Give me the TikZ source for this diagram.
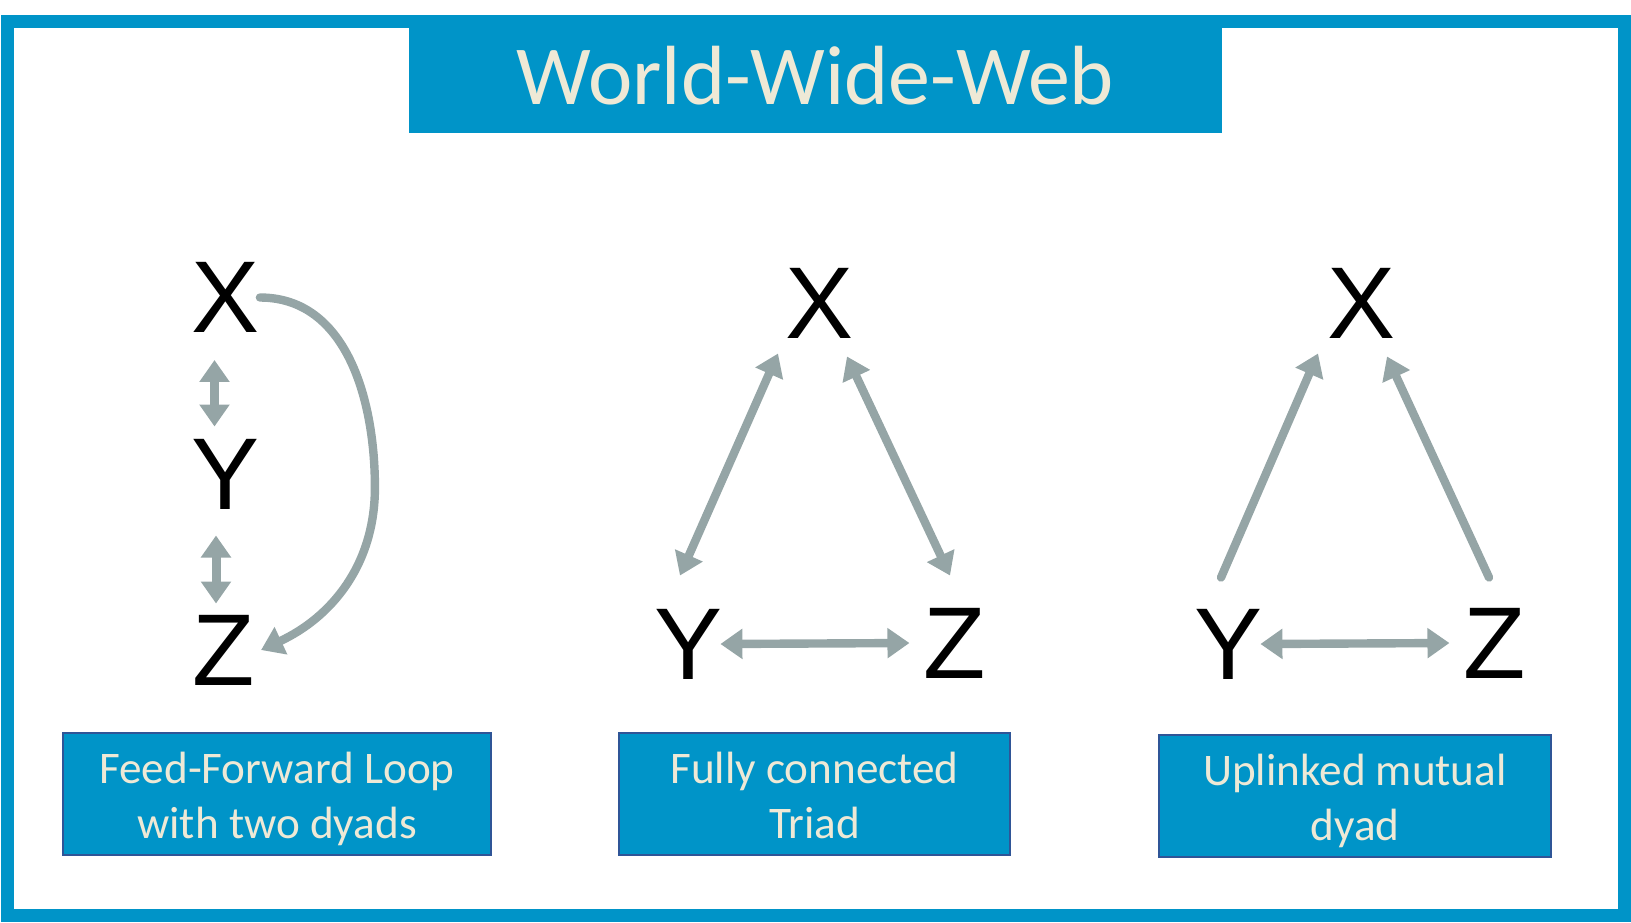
\documentclass[tikz,border=0pt]{standalone}
\usepackage{fontspec}
\setmainfont{Carlito}
\newfontfamily\letterfont{Liberation Sans}
\usetikzlibrary{arrows.meta}
\definecolor{frameblue}{RGB}{0,148,200}
\definecolor{boxline}{RGB}{47,85,151}
\definecolor{cream}{RGB}{238,233,214}
\definecolor{linkgray}{RGB}{149,165,166}

\begin{document}
\begin{tikzpicture}[x=0.5pt, y=-0.5pt,
	letter/.style={inner sep=0pt, font=\letterfont\fontsize{51}{51}\selectfont},
	caption/.style={draw=boxline, line width=1pt, fill=frameblue, text=cream, align=center, inner ysep=2pt, minimum height=61pt, font=\fontsize{22.6}{27.5}\selectfont,
	  execute at end node=\rule[-5pt]{0pt}{5pt}},
	link/.style={draw=linkgray, line width=4.2pt},
	both/.style={link, {Triangle[width=14.5pt,length=11pt]}-{Triangle[width=14.5pt,length=11pt]}},
	one/.style={link, line cap=round, -{Triangle[width=14.5pt,length=11pt]}}]
	  \useasboundingbox (0,0) rectangle (1631,922);
	  \draw[frameblue, line width=6.5pt] (7.5,21.5) rectangle (1624.5,915.5);
	  \node[fill=frameblue, minimum width=406.5pt, minimum height=59pt, text=cream, font=\fontsize{42}{42}\selectfont, text height=30pt, text depth=0pt] (title) at (815.5,74) {World-Wide-Web};
	  
	  \node[letter] (x1) at (225.5,297.5) {X};
	  \node[letter] (y1) at (225.5,474) {Y};
	  \node[letter] (z1) at (223.5,650) {Z};
	  
	  \node[letter] (x2) at (820,303) {X};
	  \node[letter] (y2) at (688.5,644) {Y};
	  \node[letter] (z2) at (955,643) {Z};
	  
	  \node[letter] (x3) at (1361,303) {X};
	  \node[letter] (y3) at (1228.5,644) {Y};
	  \node[letter] (z3) at (1495,643) {Z};
	  
	  \draw[both, line width=4.5pt, shorten <=13.5pt, shorten >=6pt] ([xshift=-5.5pt]x1.south) -- ([xshift=-5.5pt]y1.north);
	  \draw[both, line width=4.5pt, shorten <=13pt, shorten >=5.5pt] ([xshift=-4.75pt]y1.south) -- ([xshift=-3.75pt]z1.north);
	  \draw[one] (x1.east) to[out=0, in=90] ++(115,190) to[out=-90, in=25] ([xshift=3pt]z1.east);
	  
	  \draw[both] ([shift={(-8.5,-33)}]y2.north) -- ([shift={(-42,15)}]x2.south);
	  \draw[both] ([shift={(27,18)}]x2.south) -- ([shift={(-5,-32)}]z2.north);
	  \draw[both] ([xshift=-1.25pt]y2.east) -- ([xshift=-7pt]z2.west);
	  
	  \draw[one] ([shift={(-7.5,-31)}]y3.north) -- ([shift={(-43,15)}]x3.south);
	  \draw[one] ([shift={(-6,-30)}]z3.north) -- ([shift={(26,18)}]x3.south);
	  \draw[both] ([xshift=-1.25pt]y3.east) -- ([xshift=-7pt]z3.west);
	  
	  \node[caption, minimum width=214pt] (c1) at (277,794) {\rule{0pt}{22pt}Feed-Forward Loop\\with two dyads};
	  \node[caption, minimum width=195.5pt] (c2) at (814.5,794) {\rule{0pt}{22pt}Fully connected\\Triad};
	  \node[caption, minimum width=196pt] (c3) at (1355,796) {\rule{0pt}{22pt}Uplinked mutual\\dyad};
	\end{tikzpicture}
\end{document}
